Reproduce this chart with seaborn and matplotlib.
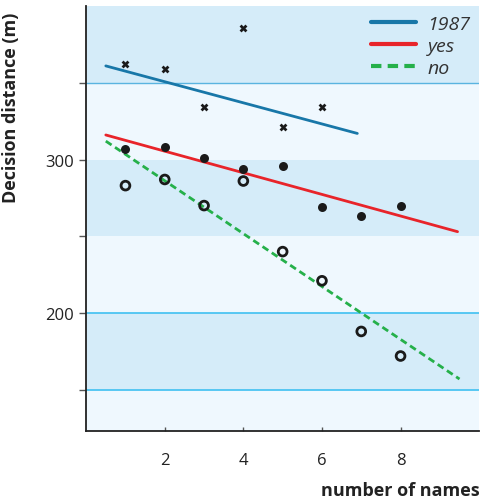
import numpy as np
import pandas as pd
import matplotlib
matplotlib.use("Agg")
import matplotlib.pyplot as plt
import seaborn as sns

# data
names = [1, 2, 3, 4, 5, 6, 7, 8]
dist_1987 = [362, 359, 334, 386, 321, 334]
dist_yes = [307, 308, 301, 294, 296, 269, 263, 270]
dist_no = [283, 287, 270, 286, 240, 221, 188, 172]

# fitted trend lines (end points)
fit_x_1987 = [0.5, 6.9]
fit_y_1987 = [361, 317]
fit_x_yes = [0.5, 9.45]
fit_y_yes = [316, 253]
fit_x_no = [0.5, 9.5]
fit_y_no = [312, 157]

sns.set_style("white")
plt.rcParams['font.family'] = ['Open Sans', 'DejaVu Sans']

fig = plt.figure(figsize=(4.84, 5.02), dpi=100)
ax = fig.add_axes([0.178, 0.139, 0.812, 0.847])

# shaded bands
dark = "#d5ecf9"
light = "#eff8fe"
for lo, hi, c in [(120, 150, light), (150, 200, dark), (200, 250, light),
                  (250, 300, dark), (300, 350, light), (350, 400, dark)]:
    ax.axhspan(lo, hi, color=c, zorder=0, lw=0)
ax.axhline(350, color="#5ab4e0", lw=1, zorder=1)
ax.axhline(200, color="#4cc4f2", lw=1.3, zorder=1)
ax.axhline(150, color="#4cc4f2", lw=1.3, zorder=1)

# trend lines
sns.lineplot(x=fit_x_1987, y=fit_y_1987, ax=ax, color="#1877a8", lw=2, label="1987")
sns.lineplot(x=fit_x_yes, y=fit_y_yes, ax=ax, color="#e8242a", lw=2, label="yes")
sns.lineplot(x=fit_x_no, y=fit_y_no, ax=ax, color="#25b04a", lw=2, label="no")
ax.lines[-1].set_linestyle((0, (2.5, 1.5)))

# points
sns.scatterplot(x=names[:6], y=dist_1987, ax=ax, marker="X", s=32, color="#1a1a1a",
                linewidth=0, zorder=5, legend=False)
sns.scatterplot(x=names, y=dist_yes, ax=ax, marker="o", s=42, color="#1a1a1a",
                linewidth=0, zorder=5, legend=False)
sns.scatterplot(x=names, y=dist_no, ax=ax, marker="o", s=40, facecolor="none",
                edgecolor="#1a1a1a", linewidth=2, zorder=5, legend=False)

ax.set_xlim(0, 10)
ax.set_ylim(123, 400)
ax.set_xticks([2, 4, 6, 8])
ax.set_yticks([150, 200, 250, 300, 350])
ax.set_yticklabels(["", "200", "", "300", ""])
ax.tick_params(axis="y", direction="out", length=5, width=1, color="#555555",
               labelsize=12, labelcolor="#222222", left=True)
ax.tick_params(axis="x", direction="in", length=3, width=1, color="#555555",
               labelsize=12, labelcolor="#222222", pad=15, bottom=True)

for s in ["top", "right"]:
    ax.spines[s].set_visible(False)
for s in ["left", "bottom"]:
    ax.spines[s].set_color("#222222")
    ax.spines[s].set_linewidth(1.3)

ax.set_ylabel("Decision distance (m)", fontsize=13, fontweight="bold", color="#222222",
              loc="top")
ax.yaxis.set_label_coords(-0.168, 0.988)
ax.set_xlabel("number of names", fontsize=13, fontweight="bold", color="#222222",
              loc="right", labelpad=9)

leg = ax.legend(loc="upper right", frameon=False, fontsize=14, handlelength=2.3,
                handletextpad=0.6, labelspacing=0.2, borderaxespad=0.05)
for t in leg.get_texts():
    t.set_fontstyle("italic")
    t.set_color("#333333")
for h in leg.legend_handles:
    h.set_linewidth(3)

fig.savefig("out.png", dpi=100)
